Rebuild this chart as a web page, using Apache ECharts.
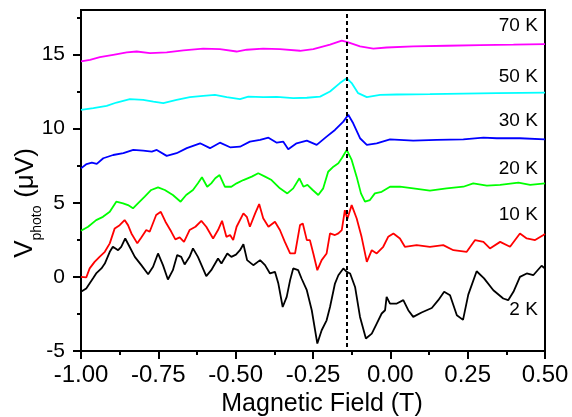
<!DOCTYPE html>
<html>
<head>
<meta charset="utf-8">
<script src="https://cdn.jsdelivr.net/npm/echarts@6/dist/echarts.min.js"></script>
<style>
html,body{margin:0;padding:0;background:#fff;}
#chart{width:572px;height:417px;}
</style>
</head>
<body>
<div id="chart"></div>
<script>
// ---- data: [magnetic field (T), V_photo (uV)] ----
const k70 = [[-1.000,14.53],[-0.971,14.64],[-0.939,14.82],[-0.896,14.98],[-0.852,15.14],[-0.820,15.20],[-0.777,15.09],[-0.723,15.14],[-0.669,15.27],[-0.605,15.39],[-0.551,15.36],[-0.497,15.20],[-0.464,15.32],[-0.411,15.39],[-0.357,15.36],[-0.292,15.25],[-0.249,15.36],[-0.195,15.66],[-0.157,15.93],[-0.136,15.81],[-0.098,15.54],[-0.055,15.39],[-0.012,15.47],[0.074,15.54],[0.182,15.59],[0.290,15.63],[0.398,15.66],[0.500,15.70]];
const k50 = [[-1.000,11.26],[-0.960,11.38],[-0.917,11.53],[-0.885,11.76],[-0.842,11.99],[-0.799,11.94],[-0.766,11.82],[-0.734,11.72],[-0.691,11.94],[-0.648,12.12],[-0.605,12.21],[-0.567,12.28],[-0.529,12.12],[-0.486,11.99],[-0.459,12.16],[-0.411,12.12],[-0.367,12.14],[-0.314,12.05],[-0.270,12.08],[-0.227,12.16],[-0.195,12.50],[-0.163,13.07],[-0.141,13.40],[-0.125,13.07],[-0.104,12.39],[-0.076,12.12],[-0.033,12.28],[0.021,12.30],[0.128,12.32],[0.236,12.36],[0.344,12.39],[0.500,12.43]];
const k30 = [[-1.000,7.32],[-0.982,7.61],[-0.965,7.70],[-0.949,7.62],[-0.928,8.00],[-0.896,8.22],[-0.863,8.34],[-0.831,8.56],[-0.799,8.51],[-0.771,8.45],[-0.755,8.56],[-0.723,8.16],[-0.691,8.34],[-0.658,8.68],[-0.615,9.01],[-0.583,8.68],[-0.551,9.05],[-0.518,8.74],[-0.486,8.78],[-0.454,9.12],[-0.421,9.24],[-0.394,9.39],[-0.367,9.05],[-0.346,9.12],[-0.330,8.61],[-0.303,9.01],[-0.270,9.19],[-0.238,8.90],[-0.206,9.46],[-0.179,9.91],[-0.152,10.47],[-0.136,10.93],[-0.120,10.36],[-0.098,9.35],[-0.076,8.90],[-0.044,9.01],[-0.001,9.28],[0.074,9.19],[0.150,9.24],[0.236,9.28],[0.301,9.39],[0.344,9.35],[0.419,9.35],[0.500,9.28]];
const k20 = [[-1.000,3.11],[-0.977,3.38],[-0.951,3.83],[-0.929,4.05],[-0.907,4.39],[-0.886,5.07],[-0.864,4.96],[-0.848,4.84],[-0.832,4.62],[-0.816,4.96],[-0.794,5.41],[-0.773,5.86],[-0.751,6.04],[-0.729,5.86],[-0.703,5.52],[-0.678,5.07],[-0.660,5.52],[-0.638,5.86],[-0.622,6.31],[-0.609,6.72],[-0.592,6.08],[-0.579,6.31],[-0.566,6.65],[-0.552,6.87],[-0.535,6.08],[-0.514,6.08],[-0.497,6.31],[-0.475,6.53],[-0.448,6.76],[-0.427,6.99],[-0.405,6.76],[-0.384,6.53],[-0.357,5.97],[-0.333,5.63],[-0.314,5.97],[-0.294,6.65],[-0.281,6.08],[-0.268,6.20],[-0.251,5.86],[-0.233,5.52],[-0.217,5.97],[-0.201,7.09],[-0.184,7.43],[-0.168,7.66],[-0.157,8.00],[-0.141,8.56],[-0.125,7.89],[-0.109,6.76],[-0.095,5.63],[-0.082,5.07],[-0.066,5.18],[-0.050,5.63],[-0.028,5.74],[-0.001,6.08],[0.031,6.08],[0.074,5.97],[0.128,5.81],[0.182,5.97],[0.236,6.08],[0.268,6.31],[0.312,6.15],[0.355,6.20],[0.414,6.35],[0.452,6.20],[0.500,6.31]];
const k10 = [[-1.000,0.00],[-0.983,-0.04],[-0.972,0.57],[-0.956,1.01],[-0.940,1.35],[-0.923,1.69],[-0.907,2.26],[-0.891,3.27],[-0.875,3.49],[-0.859,3.83],[-0.848,3.49],[-0.837,2.93],[-0.818,2.26],[-0.805,2.66],[-0.789,3.16],[-0.778,3.04],[-0.757,4.17],[-0.742,4.39],[-0.727,3.72],[-0.708,3.04],[-0.695,2.53],[-0.681,2.66],[-0.667,2.36],[-0.649,3.16],[-0.630,3.38],[-0.611,3.78],[-0.595,3.38],[-0.573,2.59],[-0.557,3.16],[-0.544,3.78],[-0.530,2.70],[-0.518,2.82],[-0.508,2.48],[-0.497,3.38],[-0.475,4.28],[-0.464,4.05],[-0.454,3.38],[-0.437,4.28],[-0.424,4.91],[-0.411,3.95],[-0.394,3.38],[-0.373,3.72],[-0.357,3.16],[-0.341,2.36],[-0.324,1.58],[-0.308,1.58],[-0.292,3.49],[-0.283,3.60],[-0.270,2.48],[-0.260,2.48],[-0.249,1.58],[-0.236,0.45],[-0.222,1.13],[-0.206,1.58],[-0.195,2.93],[-0.179,2.82],[-0.168,2.93],[-0.157,3.16],[-0.147,4.50],[-0.139,3.90],[-0.125,4.84],[-0.109,3.95],[-0.093,2.70],[-0.076,1.01],[-0.060,1.80],[-0.044,1.58],[-0.023,2.03],[-0.007,2.70],[0.010,2.93],[0.031,2.59],[0.047,2.03],[0.085,2.14],[0.128,2.03],[0.171,2.14],[0.204,1.80],[0.247,1.69],[0.274,2.48],[0.301,2.36],[0.322,1.92],[0.355,2.36],[0.387,2.03],[0.419,2.93],[0.441,2.59],[0.468,2.48],[0.495,2.82],[0.500,2.90]];
const k2 = [[-1.000,-1.01],[-0.983,-0.78],[-0.961,-0.10],[-0.951,0.23],[-0.934,0.57],[-0.923,0.90],[-0.907,1.69],[-0.897,2.03],[-0.880,1.80],[-0.870,2.03],[-0.857,2.59],[-0.843,2.03],[-0.826,1.35],[-0.805,0.79],[-0.783,0.18],[-0.767,0.68],[-0.751,1.58],[-0.735,0.79],[-0.719,-0.18],[-0.703,0.45],[-0.689,1.47],[-0.676,1.35],[-0.665,0.84],[-0.649,1.35],[-0.638,1.92],[-0.622,1.35],[-0.595,0.05],[-0.579,0.45],[-0.557,1.24],[-0.546,0.90],[-0.527,1.58],[-0.514,1.35],[-0.499,1.50],[-0.486,1.80],[-0.475,2.20],[-0.463,1.13],[-0.443,0.79],[-0.421,1.13],[-0.405,0.79],[-0.389,0.23],[-0.373,0.34],[-0.362,-0.45],[-0.348,-2.03],[-0.335,-1.35],[-0.324,-0.22],[-0.314,0.57],[-0.298,0.45],[-0.287,-0.11],[-0.270,-0.90],[-0.254,-2.25],[-0.236,-4.50],[-0.222,-3.60],[-0.206,-2.93],[-0.195,-2.03],[-0.179,-0.45],[-0.168,0.11],[-0.152,0.57],[-0.141,0.34],[-0.130,0.23],[-0.114,-0.68],[-0.098,-2.70],[-0.079,-4.16],[-0.060,-3.83],[-0.044,-3.15],[-0.028,-2.47],[-0.017,-2.25],[-0.012,-1.35],[-0.001,-1.80],[0.021,-1.80],[0.042,-1.57],[0.058,-2.25],[0.074,-2.70],[0.101,-2.40],[0.134,-2.10],[0.155,-1.57],[0.174,-1.01],[0.193,-1.24],[0.215,-2.59],[0.235,-2.90],[0.252,-1.20],[0.279,0.38],[0.303,-0.10],[0.333,-0.90],[0.365,-1.46],[0.381,-1.57],[0.398,-1.01],[0.419,0.00],[0.441,0.23],[0.462,0.11],[0.489,0.75],[0.500,0.57]];

const seriesNames = ['70 K','50 K','30 K','20 K','10 K','2 K'];
const seriesData = [k70, k50, k30, k20, k10, k2];
const seriesColors = ['#ff00ff','#00ffff','#0000ff','#00ff00','#ff0000','#000000'];

// temperature label anchors (right edge, data units)
const labelX = [0.477,0.477,0.477,0.477,0.477,0.477];
const labelY = [16.92,13.51,10.54,7.32,4.17,-2.25];

// dashed marker line
const markerField = -0.14;
const markerRange = [-4.73, 17.8];

// axes
const xMin = -1, xMax = 0.5, xStep = 0.25;
const yMin = -5, yMax = 18;
const yMajor = [-5, 0, 5, 10, 15];
const yMinor = [-2.5, 2.5, 7.5, 12.5, 17.5];

const FONT = 'Liberation Sans, Arial, sans-serif';
const chart = echarts.init(document.getElementById('chart'), null, {renderer:'canvas'});

const lineSeries = seriesData.map((d, i) => ({
  name: seriesNames[i],
  type: 'line',
  data: d,
  showSymbol: false,
  symbol: 'none',
  lineStyle: {color: seriesColors[i], width: 1.8},
  itemStyle: {color: seriesColors[i]},
  z: 3,
  animation: false
}));

lineSeries[lineSeries.length - 1].markLine = {
  symbol: ['none','none'],
  silent: true,
  label: {show: false},
  lineStyle: {color: '#000', width: 2, type: [4, 3]},
  data: [[{coord: [markerField, markerRange[0]]}, {coord: [markerField, markerRange[1]]}]],
  animation: false
};

const labelSeries = {
  type: 'scatter',
  symbolSize: 0,
  itemStyle: {opacity: 1},
  data: seriesNames.map((n, i) => [labelX[i], labelY[i], n]),
  label: {
    show: true,
    position: 'left',
    distance: 0,
    formatter: p => p.value[2],
    fontFamily: FONT,
    fontSize: 19,
    color: '#000',
    opacity: 1
  },
  silent: true,
  z: 5,
  animation: false
};

const axisLineStyle = {color: '#000', width: 2};

const option = {
  animation: false,
  backgroundColor: '#fff',
  grid: {left: 81, right: 27, top: 10, bottom: 66, show: true, borderColor: '#000', borderWidth: 2, backgroundColor: 'transparent'},
  xAxis: {
    type: 'value', min: xMin, max: xMax, interval: xStep,
    axisLine: {show: true, onZero: false, lineStyle: axisLineStyle},
    axisTick: {show: true, length: 8, lineStyle: axisLineStyle},
    minorTick: {show: true, splitNumber: 2, length: 4, lineStyle: axisLineStyle},
    axisLabel: {fontFamily: FONT, fontSize: 24, color: '#000', margin: 12, formatter: v => v.toFixed(2)},
    splitLine: {show: false}
  },
  yAxis: [
    {
      type: 'value', min: yMin, max: yMax,
      axisLine: {show: true, onZero: false, lineStyle: axisLineStyle},
      axisTick: {show: true, length: 8, lineStyle: axisLineStyle, customValues: yMajor},
      axisLabel: {fontFamily: FONT, fontSize: 21, color: '#000', margin: 16, customValues: yMajor},
      splitLine: {show: false}
    },
    {
      type: 'value', min: yMin, max: yMax, position: 'left', offset: 0,
      axisLine: {show: false, onZero: false},
      axisTick: {show: true, length: 4, lineStyle: axisLineStyle, customValues: yMinor},
      axisLabel: {show: false, customValues: yMinor},
      splitLine: {show: false}
    }
  ],
  graphic: [
    {type: 'text', x: 322, y: 404, z: 10,
     style: {text: 'Magnetic Field (T)', font: '25px ' + FONT, fill: '#000', align: 'center', verticalAlign: 'middle', textAlign: 'center', textVerticalAlign: 'middle'}},
    {type: 'text', x: 25, y: 249, rotation: Math.PI / 2, z: 10,
     style: {text: 'V', font: '26px ' + FONT, fill: '#000', align: 'center', verticalAlign: 'middle', textAlign: 'center', textVerticalAlign: 'middle'}},
    {type: 'text', x: 37, y: 223, rotation: Math.PI / 2, z: 10,
     style: {text: 'photo', font: '14px ' + FONT, fill: '#000', align: 'center', verticalAlign: 'middle', textAlign: 'center', textVerticalAlign: 'middle'}},
    {type: 'text', x: 26, y: 173, rotation: Math.PI / 2, z: 10,
     style: {text: '(\u03bcV)', font: '26px ' + FONT, fill: '#000', align: 'center', verticalAlign: 'middle', textAlign: 'center', textVerticalAlign: 'middle'}}
  ],
  series: lineSeries.concat([labelSeries])
};

chart.setOption(option);
</script>
</body>
</html>
